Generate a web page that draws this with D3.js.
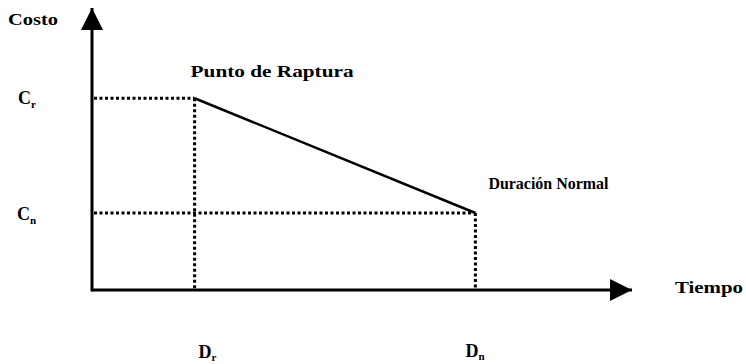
<!DOCTYPE html>
<html>
<head>
<meta charset="utf-8">
<script src="https://cdn.jsdelivr.net/npm/d3@7"></script>
<style>
  body { margin: 0; background: #fff; }
</style>
</head>
<body>
<div id="main"></div>
<script>
/* Size */
const width = 746, height = 364;

/* Data (abstract units) */
const durations = [19, 71];          // Dr, Dn on the time axis
const costs = [68, 27.3];            // Cr, Cn on the cost axis
const durationLabels = ["r", "n"];   // subscripts of D
const costLabels = ["r", "n"];       // subscripts of C
const pointLabels = ["Punto de Raptura", "Duración Normal"];
const axisLabels = ["Tiempo", "Costo"];

const font = "'Liberation Serif', 'DejaVu Serif', 'Times New Roman', serif";

const x = d3.scaleLinear().domain([0, 100]).range([92, 632]);
const y = d3.scaleLinear().domain([0, 100]).range([290, 8]);

const svg = d3.select("#main").append("svg")
  .attr("width", width).attr("height", height)
  .style("font-family", font).style("font-weight", "bold");

/* arrow heads */
svg.append("defs").append("marker")
  .attr("id", "arrow")
  .attr("viewBox", "0 0 22 22")
  .attr("refX", 22).attr("refY", 11)
  .attr("markerWidth", 22).attr("markerHeight", 22)
  .attr("markerUnits", "userSpaceOnUse")
  .attr("orient", "auto")
  .append("path").attr("d", "M0,0 L22,11 L0,22 Z").attr("fill", "#000");

/* axes */
svg.append("line")
  .attr("x1", x(0)).attr("y1", y(0)).attr("x2", x(100)).attr("y2", y(0))
  .attr("stroke", "#000").attr("stroke-width", 3)
  .attr("marker-end", "url(#arrow)");
svg.append("line")
  .attr("x1", x(0)).attr("y1", y(0) + 1.5).attr("x2", x(0)).attr("y2", y(100))
  .attr("stroke", "#000").attr("stroke-width", 3)
  .attr("marker-end", "url(#arrow)");

/* dotted guides */
const guides = svg.append("g")
  .attr("stroke", "#000").attr("stroke-width", 3)
  .attr("stroke-dasharray", "3,2.5").attr("fill", "none");
durations.forEach((d, i) => {
  guides.append("line")
    .attr("x1", x(0) + 2).attr("y1", y(costs[i])).attr("x2", x(d)).attr("y2", y(costs[i]));
  guides.append("line")
    .attr("x1", x(d)).attr("y1", y(costs[i])).attr("x2", x(d)).attr("y2", y(0));
});

/* cost-time line */
const line = d3.line().x(d => x(d[0])).y(d => y(d[1]));
svg.append("path")
  .datum(d3.zip(durations, costs))
  .attr("d", line)
  .attr("fill", "none").attr("stroke", "#000").attr("stroke-width", 2.5);

/* axis labels */
svg.append("text").text(axisLabels[1])
  .attr("x", 8).attr("y", 25).attr("font-size", 17)
  .attr("textLength", 50).attr("lengthAdjust", "spacingAndGlyphs");
svg.append("text").text(axisLabels[0])
  .attr("x", 675).attr("y", 293).attr("font-size", 17)
  .attr("textLength", 68).attr("lengthAdjust", "spacingAndGlyphs");

/* point labels */
svg.append("text").text(pointLabels[0])
  .attr("x", x(durations[0]) - 4).attr("y", y(costs[0]) - 21).attr("font-size", 17)
  .attr("textLength", 163).attr("lengthAdjust", "spacingAndGlyphs");
svg.append("text").text(pointLabels[1])
  .attr("x", x(durations[1]) + 13).attr("y", y(costs[1]) - 24).attr("font-size", 17)
  .attr("textLength", 120).attr("lengthAdjust", "spacingAndGlyphs");

/* C labels on the cost axis */
const cOff = [[18, 6], [17, 7]];
costs.forEach((c, i) => {
  const t = svg.append("text")
    .attr("x", cOff[i][0]).attr("y", y(c) + cOff[i][1]).attr("font-size", 18);
  t.append("tspan").text("C");
  t.append("tspan").text(costLabels[i]).attr("font-size", 11).attr("dy", 4);
});

/* D labels below the time axis */
const dOff = [[4, 68], [-10, 67]];
durations.forEach((d, i) => {
  const t = svg.append("text")
    .attr("x", x(d) + dOff[i][0]).attr("y", y(0) + dOff[i][1]).attr("font-size", 18);
  t.append("tspan").text("D");
  t.append("tspan").text(durationLabels[i]).attr("font-size", 11).attr("dy", 3);
});
</script>
</body>
</html>
